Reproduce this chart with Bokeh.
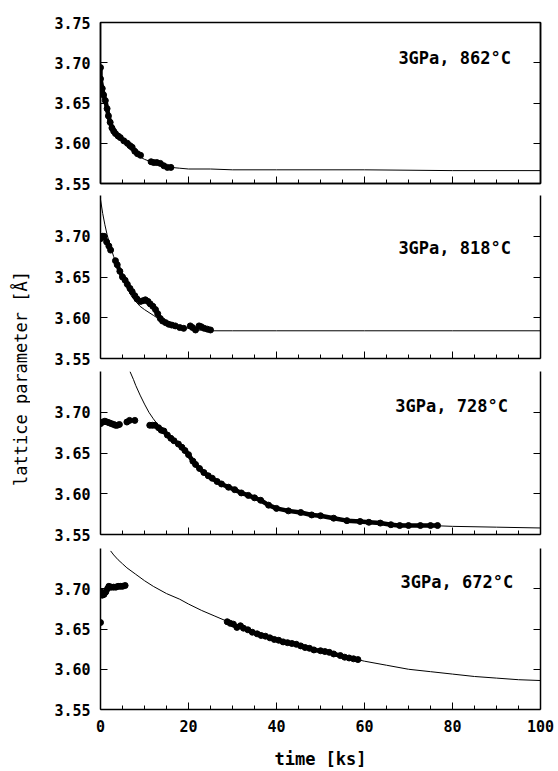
import math
from bokeh.plotting import figure
from bokeh.layouts import row, column
from bokeh.models import Range1d, LinearAxis, FixedTicker, PrintfTickFormatter
from bokeh.core.properties import value
from bokeh.embed import file_html
from bokeh.resources import INLINE

nan = float("nan")

# ---------------- data (time in ks, lattice parameter in Angstrom) ----------------
x_major_ticks = [0, 20, 40, 60, 80, 100]
x_minor_ticks = [5, 10, 15, 25, 30, 35, 45, 50, 55, 65, 70, 75, 85, 90, 95]
y_ticks_top = [3.55, 3.60, 3.65, 3.70, 3.75]
y_ticks = [3.55, 3.60, 3.65, 3.70]
y_ticks_right = [3.60, 3.65, 3.70]

labels = ["3GPa, 862°C", "3GPa, 818°C", "3GPa, 728°C", "3GPa, 672°C"]

# 862 C
p1_dot_t = [0, 0, 0.4, 0.7, 1.1, 1.5, 1.8, 2.2, 2.6, 3.0, 3.4, 4.0, 4.5, 5.3, 6.1, 6.7, 7.2, 7.8, 8.4, 9.1,
            nan, 11.5, 12.1, 12.8, 13.6, 14.4, 15.2, 16.0]
p1_dot_v = [3.694, 3.680, 3.668, 3.660, 3.653, 3.643, 3.634, 3.626, 3.619, 3.615, 3.612, 3.609, 3.607, 3.603,
            3.600, 3.597, 3.595, 3.590, 3.587, 3.585,
            nan, 3.577, 3.576, 3.576, 3.575, 3.572, 3.570, 3.570]
p1_fit_t = [0, 1, 2, 3, 4, 5, 6, 7, 8, 10, 12, 14, 16, 18, 20, 25, 30, 40, 60, 80, 100]
p1_fit_v = [3.665, 3.648, 3.633, 3.621, 3.611, 3.603, 3.596, 3.591, 3.586, 3.580, 3.576, 3.572, 3.570,
            3.569, 3.568, 3.568, 3.567, 3.567, 3.567, 3.566, 3.566]

# 818 C
p2_dot_t = [0, 0.4, 0.8, 1.4, 1.9, 2.3, nan, 3.4, 3.8, 4.4, 5.0, 5.6, 6.1, 6.7, 7.2, 7.8, 8.3, 9.1, 9.7, 10.2,
            10.8, 11.3, 11.9, 12.5, 13.0, 13.6, 14.1, 14.8, 15.5, 16.2, 17.0, 18.0, 18.9, nan, 20.4, 20.9,
            21.6, nan, 22.4, 22.9, 23.6, 24.3, 25.0]
p2_dot_v = [3.697, 3.700, 3.700, 3.693, 3.688, 3.683, nan, 3.670, 3.665, 3.657, 3.650, 3.646, 3.641, 3.636,
            3.632, 3.627, 3.623, 3.620, 3.621, 3.622, 3.620, 3.617, 3.614, 3.610, 3.605, 3.599, 3.596, 3.594,
            3.592, 3.591, 3.590, 3.588, 3.587, nan, 3.590, 3.588, 3.585, nan, 3.590, 3.589, 3.587, 3.586, 3.585]
p2_fit_t = [0, 0.5, 1, 1.5, 2, 3, 4, 5, 6, 7, 8, 9, 10, 12, 14, 16, 18, 20, 22, 25, 30, 40, 60, 80, 100]
p2_fit_v = [3.745, 3.728, 3.714, 3.702, 3.692, 3.675, 3.660, 3.648, 3.637, 3.627, 3.620, 3.614, 3.610,
            3.603, 3.596, 3.592, 3.589, 3.587, 3.585, 3.584, 3.584, 3.584, 3.584, 3.584, 3.584]

# 728 C
p3_dot_t = [0, 0.5, 1, 1.5, 2, 2.5, 3, 3.4, 3.8, 4.3, nan, 6.0, 6.6, nan, 7.8, nan, 11.2, 11.8, 12.4, 13.2,
            13.8, 14.4, 15.2, 16.0, 16.7, 17.7, 18.5, 19.2, 20.0, 21.0, 21.6, 22.5, 23.5, 24.5, 25.4, 26.5,
            27.5, 29.1, 30.5, 32.0, 33.6, 35.0, 36.4, 38.2, 40.0, 42.7, 45.5, 48.0, 50.0, 53.0, 56.0, 59.0,
            61.0, 63.6, 66.0, 68.0, 70.0, 72.7, 75.0, 76.6]
p3_dot_v = [3.686, 3.688, 3.689, 3.688, 3.687, 3.686, 3.685, 3.684, 3.684, 3.685, nan, 3.688, 3.690, nan,
            3.690, nan, 3.684, 3.684, 3.684, 3.681, 3.678, 3.677, 3.672, 3.668, 3.665, 3.661, 3.657, 3.653,
            3.648, 3.640, 3.636, 3.631, 3.626, 3.622, 3.619, 3.615, 3.612, 3.608, 3.605, 3.601, 3.598, 3.595,
            3.592, 3.586, 3.582, 3.579, 3.577, 3.574, 3.573, 3.570, 3.567, 3.566, 3.565, 3.564, 3.562, 3.561,
            3.561, 3.561, 3.561, 3.561]
p3_fit_t = [6.7, 7.5, 8, 9, 10, 11, 12, 13, 14, 15, 16, 18, 20, 22, 24, 26, 28, 30, 33, 36, 40, 45, 50, 55,
            60, 65, 70, 75, 80, 90, 100]
p3_fit_v = [3.750, 3.740, 3.733, 3.721, 3.710, 3.700, 3.692, 3.685, 3.678, 3.672, 3.667, 3.657, 3.646,
            3.634, 3.624, 3.616, 3.611, 3.606, 3.599, 3.593, 3.583, 3.577, 3.573, 3.569, 3.567, 3.564, 3.562,
            3.561, 3.560, 3.559, 3.558]

# 672 C
p4_dot_t = [0, 0.4, 0.8, 1.2, 1.6, 1.9, 2.5, 3.0, 3.5, 4.0, 4.5, 5.0, 5.6, nan, 0, nan, 28.8, 29.5, 30.2,
            31.0, 31.8, 32.5, 33.5, 34.5, 35.6, 36.5, 37.5, 38.5, 39.5, 40.5, 41.5, 42.5, 43.5, 44.5, 45.5,
            46.5, 47.5, 48.5, 50.0, 51.0, 52.0, 53.0, 54.5, 55.5, 56.5, 57.5, 58.5]
p4_dot_v = [3.697, 3.692, 3.693, 3.696, 3.700, 3.703, 3.702, 3.702, 3.702, 3.703, 3.703, 3.703, 3.704, nan,
            3.658, nan, 3.659, 3.657, 3.656, 3.652, 3.654, 3.651, 3.649, 3.646, 3.644, 3.642, 3.641, 3.639,
            3.637, 3.636, 3.634, 3.633, 3.632, 3.631, 3.629, 3.627, 3.626, 3.624, 3.623, 3.622, 3.621, 3.619,
            3.617, 3.615, 3.614, 3.613, 3.612]
p4_fit_t = [2.3, 3, 4, 5, 6, 8, 10, 12, 15, 18, 20, 23, 26, 29, 32, 35, 40, 45, 50, 55, 60, 65, 70, 75, 80,
            85, 90, 95, 100]
p4_fit_v = [3.747, 3.742, 3.736, 3.731, 3.726, 3.718, 3.710, 3.703, 3.694, 3.687, 3.681, 3.673, 3.666,
            3.659, 3.653, 3.647, 3.637, 3.629, 3.622, 3.616, 3.610, 3.605, 3.600, 3.597, 3.594, 3.591, 3.589,
            3.587, 3.586]

label_pos_t = [67.7, 67.7, 67.0, 68.2]
label_pos_v = [3.706, 3.686, 3.708, 3.708]

# ---------------- styling ----------------
FONT = "DejaVu Sans Mono"


def hide_labels(axis):
    axis.major_label_text_color = None
    axis.major_label_text_alpha = 0
    axis.major_label_standoff = 0


def make_panel(height, top, bottom, dots_t, dots_v, fit_t, fit_v, idx, first=False, last=False):
    p = figure(width=528, height=height, x_range=Range1d(0, 100), y_range=Range1d(3.55, 3.75),
               output_backend="svg", toolbar_location=None,
               min_border_left=70, min_border_right=18, min_border_top=top, min_border_bottom=bottom)
    p.xgrid.visible = False
    p.ygrid.visible = False
    p.background_fill_color = "white"
    p.border_fill_color = "white"
    if first:
        p.outline_line_color = "black"
        p.outline_line_width = 1.5
    else:
        p.outline_line_color = None

    # left axis
    ya = p.yaxis[0]
    ya.ticker = FixedTicker(ticks=y_ticks_top if first else y_ticks)
    ya.formatter = PrintfTickFormatter(format="%.2f")
    ya.major_tick_in = 7
    ya.major_tick_out = 0
    ya.minor_tick_in = 0
    ya.minor_tick_out = 0
    ya.axis_line_color = "black"
    ya.axis_line_width = 1.5
    ya.major_tick_line_width = 1
    ya.major_label_standoff = 10
    ya.major_label_text_font = FONT
    ya.major_label_text_font_style = "bold"
    ya.major_label_text_font_size = "15px"
    ya.major_label_text_color = "black"

    # right axis (ticks only)
    ra = LinearAxis(ticker=FixedTicker(ticks=y_ticks_right))
    ra.major_tick_in = 7
    ra.major_tick_out = 0
    ra.minor_tick_in = 0
    ra.minor_tick_out = 0
    ra.axis_line_color = "black"
    ra.axis_line_width = 1.5
    hide_labels(ra)
    p.add_layout(ra, "right")

    # bottom axis
    xa = p.xaxis[0]
    xa.ticker = FixedTicker(ticks=x_major_ticks, minor_ticks=x_minor_ticks)
    xa.major_tick_in = 7
    xa.major_tick_out = 0
    xa.minor_tick_in = 4
    xa.minor_tick_out = 0
    xa.axis_line_color = "black"
    xa.axis_line_width = 1.5
    if last:
        xa.major_label_standoff = 10
        xa.major_label_text_font = FONT
        xa.major_label_text_font_style = "bold"
        xa.major_label_text_font_size = "15px"
        xa.major_label_text_color = "black"
        xa.axis_label = "time [ks]"
        xa.axis_label_standoff = 14
        xa.axis_label_text_font = FONT
        xa.axis_label_text_font_style = "bold"
        xa.axis_label_text_font_size = "17px"
        xa.axis_label_text_color = "black"
    else:
        hide_labels(xa)

    # fit curve
    p.line(fit_t, fit_v, line_color="black", line_width=1)
    # measured points
    p.line(dots_t, dots_v, line_color="black", line_width=4.5, line_join="round", line_cap="round")
    p.scatter(dots_t, dots_v, size=6, fill_color="black", line_color="black")

    p.text(x=[label_pos_t[idx]], y=[label_pos_v[idx]], text=[labels[idx]],
           text_font=value(FONT), text_font_style="bold", text_font_size="17px",
           text_align="left", text_baseline="middle", text_color="black")
    return p


p1 = make_panel(193, 22, 10, p1_dot_t, p1_dot_v, p1_fit_t, p1_fit_v, 0, first=True)
p2 = make_panel(175, 2, 10, p2_dot_t, p2_dot_v, p2_fit_t, p2_fit_v, 1)
p3 = make_panel(176, 3, 10, p3_dot_t, p3_dot_v, p3_fit_t, p3_fit_v, 2)
p4 = make_panel(227, 4, 61, p4_dot_t, p4_dot_v, p4_fit_t, p4_fit_v, 3, last=True)

# y-axis title column
lab = figure(width=30, height=771, x_range=Range1d(0, 30), y_range=Range1d(0, 771),
             output_backend="svg", toolbar_location=None, x_axis_type=None, y_axis_type=None,
             min_border=0)
lab.outline_line_color = None
lab.xgrid.visible = False
lab.ygrid.visible = False
lab.text(x=[20], y=[393], text=["lattice parameter [Å]"], angle=math.pi / 2,
         text_font=value(FONT), text_font_size="17px", text_align="center",
         text_baseline="middle", text_color="black")

layout = row(lab, column(p1, p2, p3, p4))

with open("out.html", "w") as f:
    f.write(file_html(layout, INLINE))
